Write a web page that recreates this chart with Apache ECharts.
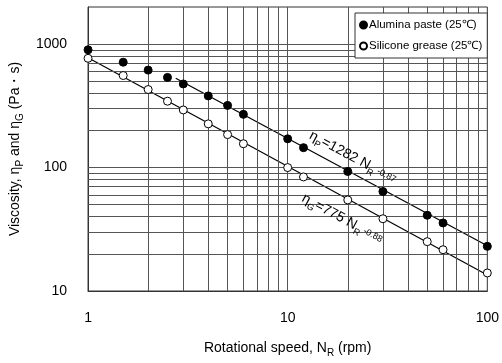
<!DOCTYPE html>
<html>
<head>
<meta charset="utf-8">
<script src="https://cdn.jsdelivr.net/npm/echarts@6/dist/echarts.min.js"></script>
<style>
  html, body { margin: 0; padding: 0; background: #fff; }
  #chart { width: 502px; height: 363px; }
</style>
</head>
<body>
<div id="chart"></div>
<script>
// rotational speed N_R (rpm)
const speeds = [1, 1.5, 2, 2.5, 3, 4, 5, 6, 10, 12, 20, 30, 50, 60, 100];
// viscosity (Pa·s)
const alumina = [900, 714, 616, 538, 476, 381, 319, 270, 171, 145, 93, 64, 41.1, 35.6, 23.0];
const silicone = [768, 557, 429, 345, 293, 226, 185, 156, 100, 84, 54.7, 38.5, 25.1, 21.6, 14.0];
// power-law fit lines (end points)
const aluminaFit = [[2.75, 530], [100, 23.3]];
const siliconeFit = [[1, 775], [100, 13.5]];
// grid lines
const xGrid = [2, 3, 4, 5, 6, 7, 8, 9, 10, 20, 30, 40, 50, 60, 70, 80, 90];
const yGrid = [20, 30, 40, 50, 60, 70, 80, 90, 100, 200, 300, 400, 500, 600, 700, 800, 900, 1000];

const FONT = '"Liberation Sans", Arial, sans-serif';
const chart = echarts.init(document.getElementById('chart'));

const pair = (xs, ys) => xs.map((x, i) => [x, ys[i]]);

const gridLine = { color: '#555', width: 1, type: 'solid' };

const option = {
  animation: false,
  textStyle: { fontFamily: FONT, color: '#000' },
  grid: { left: 88, right: 11, top: 7, bottom: 68, show: true, borderColor: '#333', borderWidth: 1 },
  legend: {
    data: ['Alumina paste (25℃)', 'Silicone grease (25℃)'],
    orient: 'vertical',
    left: 355, top: 13, z: 50,
    padding: [6, 5, 6, 4],
    itemGap: 9,
    itemWidth: 7, itemHeight: 7,
    backgroundColor: '#fff',
    borderColor: '#333', borderWidth: 1, borderRadius: 0,
    textStyle: { fontFamily: FONT, fontSize: 11.5, color: '#000', padding: [0, 0, 0, -3] }
  },
  xAxis: {
    type: 'log', logBase: 10, min: 1, max: 100,
    axisLine: { show: true, lineStyle: { color: '#333' } },
    axisTick: { show: false },
    splitLine: { show: false },
    axisLabel: { fontSize: 14, color: '#000', margin: 20, fontFamily: FONT },
    name: 'Rotational speed, N{s|R} (rpm)',
    nameLocation: 'middle', nameGap: 50,
    nameTextStyle: {
      fontSize: 14, color: '#000', fontFamily: FONT,
      rich: { s: { fontSize: 10, fontFamily: FONT, verticalAlign: 'bottom', padding: [0, 0, -3, 0] } }
    }
  },
  yAxis: {
    type: 'log', logBase: 10, min: 10, max: 2000,
    axisLine: { show: true, lineStyle: { color: '#333' } },
    axisTick: { show: false },
    splitLine: { show: false },
    axisLabel: {
      fontSize: 14, color: '#000', margin: 21, fontFamily: FONT,
      formatter: v => ([10, 100, 1000].includes(Math.round(v)) ? String(Math.round(v)) : '')
    },
    name: 'Viscosity, η{s|P} and η{s|G} (Pa・s)',
    nameLocation: 'middle', nameGap: 66,
    nameTextStyle: {
      fontSize: 14, color: '#000', fontFamily: FONT,
      rich: { s: { fontSize: 10, fontFamily: FONT, verticalAlign: 'bottom', padding: [0, 0, -3, 0] } }
    }
  },
  series: [
    {
      name: 'gridlines', type: 'line', data: [], silent: true,
      markLine: {
        silent: true, symbol: 'none', label: { show: false }, animation: false,
        lineStyle: gridLine,
        data: xGrid.map(v => ({ xAxis: v })).concat(yGrid.map(v => ({ yAxis: v })))
      }
    },
    {
      name: 'aluminaFit', type: 'line', data: aluminaFit, symbol: 'none', z: 3,
      lineStyle: { color: '#000', width: 1.2 }
    },
    {
      name: 'siliconeFit', type: 'line', data: siliconeFit, symbol: 'none', z: 3,
      lineStyle: { color: '#000', width: 1.2 }
    },
    {
      name: 'Alumina paste (25℃)', type: 'scatter', data: pair(speeds, alumina), z: 5,
      symbol: 'circle', symbolSize: 8,
      itemStyle: { color: '#000', borderColor: '#000', borderWidth: 1, opacity: 1 }
    },
    {
      name: 'Silicone grease (25℃)', type: 'scatter', data: pair(speeds, silicone), z: 5,
      symbol: 'circle', symbolSize: 8,
      itemStyle: { color: '#fff', borderColor: '#000', borderWidth: 1, opacity: 1 }
    }
  ]
};
chart.setOption(option);

// equation labels along the fit lines
const eqRich = {
  t: { fontSize: 14, fontFamily: FONT, verticalAlign: 'bottom', fill: '#000' },
  s: { fontSize: 9, fontFamily: FONT, verticalAlign: 'bottom', padding: [0, 0, -3, 0], fill: '#000' },
  e: { fontSize: 9, fontFamily: FONT, verticalAlign: 'middle', fill: '#000' }
};
function angleOf(line) {
  const a = chart.convertToPixel({ gridIndex: 0 }, line[0]);
  const b = chart.convertToPixel({ gridIndex: 0 }, line[1]);
  return -Math.atan2(b[1] - a[1], b[0] - a[0]);
}
function eqLabel(at, line, text) {
  const p = chart.convertToPixel({ gridIndex: 0 }, at);
  return {
    type: 'text', x: p[0], y: p[1], rotation: angleOf(line), z: 10, silent: true,
    style: { text: text, rich: eqRich, align: 'center', verticalAlign: 'middle', fill: '#000' }
  };
}
chart.setOption({
  graphic: [
    eqLabel([21.2, 121], aluminaFit, '{t|η}{s|P}{t|=1282 N}{s|R}{e| -0.87}'),
    eqLabel([18.8, 38.5], siliconeFit, '{t|η}{s|G}{t|=775 N}{s|R}{e| -0.88}')
  ]
});
</script>
</body>
</html>
